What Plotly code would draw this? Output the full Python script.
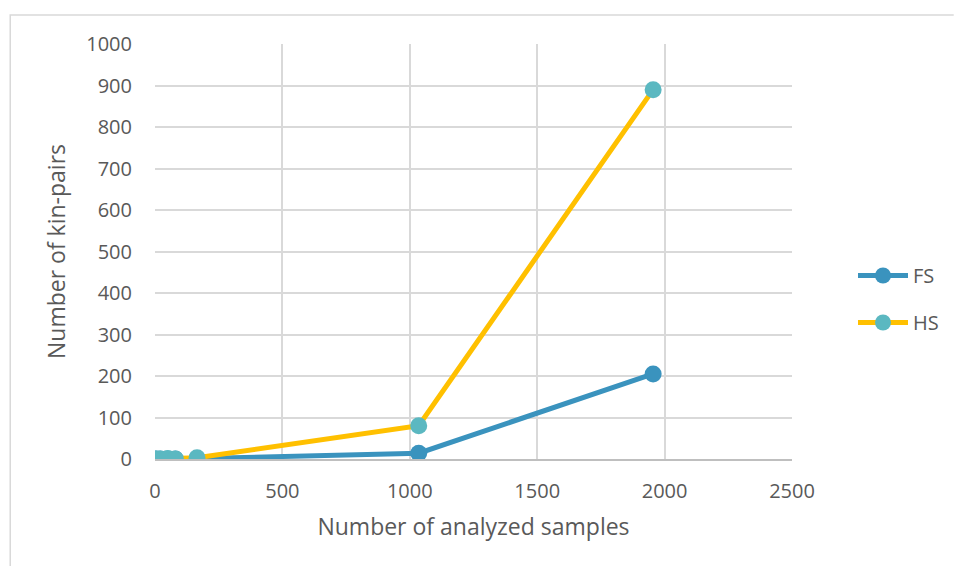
import plotly.graph_objects as go

samples = [5, 20, 50, 80, 165, 1035, 1955]
fs_pairs = [0, 0, 0, 0, 1, 14, 205]
hs_pairs = [0, 0, 1, 0, 3, 80, 890]

x_ticks = [0, 500, 1000, 1500, 2000, 2500]
y_ticks = [0, 100, 200, 300, 400, 500, 600, 700, 800, 900, 1000]

W, H = 955, 566
L, R, T, B = 155, 162, 44, 107
pw, ph = W - L - R, H - T - B

font = dict(family="Open Sans, Noto Sans, sans-serif", color="#595959")

fig = go.Figure()
fig.add_trace(go.Scatter(
    x=samples, y=fs_pairs, name="FS", mode="lines+markers", legendgroup="fs",
    line=dict(color="#3A93BE", width=5),
    marker=dict(color="#3A93BE", size=17),
))
fig.add_trace(go.Scatter(
    x=samples, y=hs_pairs, name="HS", mode="lines+markers", legendgroup="hs",
    line=dict(color="#FFC000", width=5),
    marker=dict(color="#5BB8C1", size=17),
))

def px(x):
    return (x - L) / pw

def py(y):
    return (H - B - y) / ph

fig.add_shape(type="path", xref="paper", yref="paper",
              path=f"M {px(10)} {py(566)} L {px(10)} {py(15)} L {px(955)} {py(15)}",
              line=dict(color="#D9D9D9", width=1.5))

fig.update_layout(
    width=W, height=H,
    margin=dict(l=L, r=R, t=T, b=B),
    paper_bgcolor="white", plot_bgcolor="white",
    font=dict(size=20, **font),
    legend=dict(x=px(853), y=py(256), xanchor="left", yanchor="top",
                font=dict(size=20, **font), bgcolor="rgba(0,0,0,0)",
                tracegroupgap=18, itemwidth=50),
    xaxis=dict(range=[0, 2500], tickvals=x_ticks, showgrid=True,
               gridcolor="#D9D9D9", gridwidth=1.5, zeroline=False,
               showline=True, linecolor="#BFBFBF", linewidth=1.5,
               ticks="", tickfont=dict(size=20, **font), ticklabelstandoff=13,
               title=dict(text="Number of analyzed samples", font=dict(size=23, **font), standoff=16)),
    yaxis=dict(range=[0, 1000], tickvals=y_ticks, showgrid=True,
               gridcolor="#D9D9D9", gridwidth=1.5, zeroline=False,
               showline=False, ticks="", ticklabelstandoff=22,
               tickfont=dict(size=20, **font),
               title=dict(text="Number of kin-pairs", font=dict(size=23, **font), standoff=14)),
)

fig.write_html("out.html")
